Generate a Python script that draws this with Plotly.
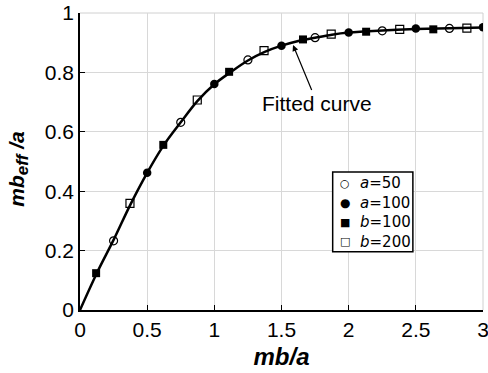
import plotly.graph_objects as go

# Fitted curve
curve_x = [0, 0.125, 0.25, 0.375, 0.5, 0.625, 0.75, 0.875, 1.0, 1.125, 1.25, 1.375,
           1.5, 1.625, 1.75, 1.875, 2.0, 2.25, 2.5, 2.75, 3.0]
curve_y = [0, 0.124, 0.236, 0.355, 0.462, 0.556, 0.632, 0.704, 0.760, 0.802, 0.840, 0.869,
           0.890, 0.906, 0.917, 0.927, 0.934, 0.941, 0.946, 0.949, 0.951]

# Series markers
a50_x = [0.25, 0.75, 1.25, 1.75, 2.25, 2.75]
a50_y = [0.233, 0.632, 0.842, 0.917, 0.940, 0.948]
a100_x = [0.5, 1.0, 1.5, 2.0, 2.5, 3.0]
a100_y = [0.462, 0.761, 0.890, 0.934, 0.948, 0.952]
b100_x = [0.12, 0.62, 1.11, 1.66, 2.13, 2.63]
b100_y = [0.124, 0.556, 0.802, 0.911, 0.937, 0.945]
b200_x = [0.372, 0.873, 1.37, 1.87, 2.38, 2.88]
b200_y = [0.359, 0.707, 0.873, 0.929, 0.945, 0.949]

series_labels = ["<i>a</i>=50", "<i>a</i>=100", "<i>b</i>=100", "<i>b</i>=200"]
legend_glyphs = ["○", "●", "■", "□"]

x_ticks = [0, 0.5, 1, 1.5, 2, 2.5, 3]
x_tick_labels = ["0", "0.5", "1", "1.5", "2", "2.5", "3"]
y_ticks = [0, 0.2, 0.4, 0.6, 0.8, 1]
y_tick_labels = ["0", "0.2", "0.4", "0.6", "0.8", "1"]

FONT = "Liberation Sans, Arial, sans-serif"

fig = go.Figure()
fig.add_trace(go.Scatter(x=curve_x, y=curve_y, mode="lines", line=dict(color="black", width=2.5, shape="spline"),
                         showlegend=False, hoverinfo="skip"))
fig.add_trace(go.Scatter(x=a50_x, y=a50_y, mode="markers", name=series_labels[0], showlegend=False,
                         marker=dict(symbol="circle-open", size=8, color="black", line=dict(width=1.2))))
fig.add_trace(go.Scatter(x=a100_x, y=a100_y, mode="markers", name=series_labels[1], showlegend=False,
                         marker=dict(symbol="circle", size=8.5, color="black")))
fig.add_trace(go.Scatter(x=b100_x, y=b100_y, mode="markers", name=series_labels[2], showlegend=False,
                         marker=dict(symbol="square", size=8, color="black")))
fig.add_trace(go.Scatter(x=b200_x, y=b200_y, mode="markers", name=series_labels[3], showlegend=False,
                         marker=dict(symbol="square-open", size=8, color="black", line=dict(width=1.2))))

fig.add_annotation(x=1.586, y=0.892, xref="x", yref="y", text="Fitted curve",
                   showarrow=True, arrowhead=2, arrowsize=1, arrowwidth=1.2, arrowcolor="black",
                   ax=24, ay=58, font=dict(family=FONT, size=21, color="black"))

# light border on top/right
fig.add_shape(type="line", xref="paper", yref="paper", x0=0, x1=1, y0=1, y1=1,
              line=dict(color="#d0d0d0", width=1), layer="below")
fig.add_shape(type="line", xref="paper", yref="paper", x0=1, x1=1, y0=0, y1=1,
              line=dict(color="#d0d0d0", width=1), layer="below")

# custom legend box
fig.add_shape(type="rect", xref="paper", yref="paper", x0=0.627, x1=0.826, y0=0.196, y1=0.4646,
              line=dict(color="black", width=1.5), fillcolor="white", layer="above")
row_y = [0.4273, 0.3616, 0.2960, 0.2303]
glyph_sizes = [11, 12, 11, 11]
for g, ry, gs in zip(legend_glyphs, row_y, glyph_sizes):
    fig.add_annotation(x=0.658, y=ry, xref="paper", yref="paper", text=g, showarrow=False,
                       xanchor="center", yanchor="middle", borderpad=0,
                       font=dict(family="DejaVu Sans", size=gs, color="black"))
fig.add_annotation(x=0.692, y=0.3288, xref="paper", yref="paper", text="<br>".join(series_labels),
                   showarrow=False, xanchor="left", yanchor="middle", align="left", borderpad=0,
                   font=dict(family="DejaVu Sans", size=15, color="black"))

fig.update_layout(
    width=488, height=373,
    margin=dict(l=80, r=5, t=13, b=63),
    paper_bgcolor="white", plot_bgcolor="white",
    font=dict(family=FONT, size=21, color="black"),
    showlegend=False,
    xaxis=dict(range=[0, 3], tickvals=x_ticks, ticktext=x_tick_labels,
               showgrid=True, gridcolor="#d8d8d8", gridwidth=1,
               showline=True, linecolor="black", linewidth=1.5,
               ticks="inside", ticklen=5, tickcolor="black", zeroline=False,
               ticklabeloverflow="allow", automargin=False,
               title=dict(text="<b><i>mb/a</i></b>", font=dict(size=24), standoff=8)),
    yaxis=dict(range=[0, 1], tickvals=y_ticks, ticktext=y_tick_labels,
               showgrid=True, gridcolor="#d8d8d8", gridwidth=1,
               showline=True, linecolor="black", linewidth=1.5,
               ticks="inside", ticklen=5, tickcolor="black", zeroline=False,
               ticklabeloverflow="allow", automargin=False),
)

# y-axis title placed to match the reference position
fig.add_annotation(x=-0.152, y=0.475, xref="paper", yref="paper", textangle=-90,
                   text="<b><i>mb<sub><span style='font-size:17px'>eff</span></sub> /a</i></b>",
                   showarrow=False, xanchor="center", yanchor="middle",
                   font=dict(family=FONT, size=21, color="black"))

fig.write_html("out.html")
